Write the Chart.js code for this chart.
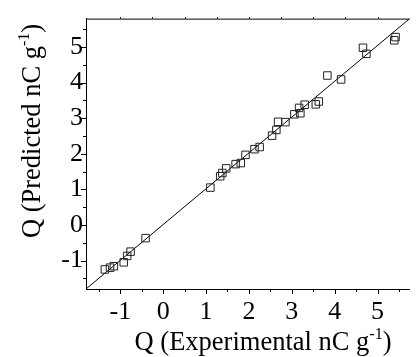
<!DOCTYPE html>
<html>
<head>
<meta charset="utf-8">
<script src="https://cdn.jsdelivr.net/npm/chart.js@4/dist/chart.umd.min.js"></script>
<style>
  html, body { margin: 0; padding: 0; background: #fff; }
  #wrap { width: 416px; height: 357px; }
</style>
</head>
<body>
<div id="wrap"><canvas id="chart" width="416" height="357"></canvas></div>
<script>
// experimental vs predicted Q
const expX = [-1.36, -1.24, -1.15, -0.92, -0.84, -0.76, -0.41, 1.10, 1.33, 1.38,
  1.47, 1.69, 1.81, 1.92, 2.13, 2.25, 2.54, 2.64, 2.68, 2.85,
  3.06, 3.17, 3.20, 3.30, 3.56, 3.63, 3.83, 4.15, 4.66, 4.74,
  5.39, 5.42];
const predY = [-1.25, -1.20, -1.16, -1.05, -0.87, -0.75, -0.37, 1.05, 1.37, 1.46,
  1.59, 1.71, 1.74, 1.97, 2.13, 2.19, 2.51, 2.67, 2.90, 2.89,
  3.11, 3.29, 3.14, 3.38, 3.39, 3.47, 4.20, 4.09, 4.98, 4.81,
  5.19, 5.28];

// fitted line end points
const fitX = [-1.8, 5.75];
const fitY = [-1.8, 5.8];

const xMajor = [-1, 0, 1, 2, 3, 4, 5];
const xMinor = [-1.5, -0.5, 0.5, 1.5, 2.5, 3.5, 4.5, 5.5];
const yMajor = [-1, 0, 1, 2, 3, 4, 5];
const yMinor = [-1.5, -0.5, 0.5, 1.5, 2.5, 3.5, 4.5, 5.5];
const xTop = [-1, -0.25, 0.5, 1.25, 2, 2.75, 3.5, 4.25, 5];

const FONT = "'Liberation Serif', 'Times New Roman', serif";

// draws the tick marks, top border and the two axis titles
const axisDeco = {
  id: 'axisDeco',
  afterDraw(chart) {
    const ctx = chart.ctx;
    const a = chart.chartArea;
    const xs = chart.scales.x, ys = chart.scales.y;
    ctx.save();
    ctx.strokeStyle = '#000';
    ctx.lineWidth = 1;
    ctx.beginPath();
    ctx.moveTo(a.left, a.top + 0.5);
    ctx.lineTo(a.right, a.top + 0.5);
    xMajor.forEach(v => { const p = Math.round(xs.getPixelForValue(v)) + 0.5; ctx.moveTo(p, a.bottom); ctx.lineTo(p, a.bottom + 5); });
    xMinor.forEach(v => { const p = Math.round(xs.getPixelForValue(v)) + 0.5; ctx.moveTo(p, a.bottom); ctx.lineTo(p, a.bottom + 3); });
    xTop.forEach(v => { const p = Math.round(xs.getPixelForValue(v)) + 0.5; ctx.moveTo(p, a.top); ctx.lineTo(p, a.top - 1.5); });
    yMajor.forEach(v => { const p = Math.round(ys.getPixelForValue(v)) + 0.5; ctx.moveTo(a.left, p); ctx.lineTo(a.left - 5, p); });
    yMinor.forEach(v => { const p = Math.round(ys.getPixelForValue(v)) + 0.5; ctx.moveTo(a.left, p); ctx.lineTo(a.left - 3, p); });
    ctx.stroke();

    ctx.fillStyle = '#000';
    ctx.textBaseline = 'alphabetic';
    const drawTitle = (main, tail, cx, baseY) => {
      ctx.font = '26.5px ' + FONT;
      const w1 = ctx.measureText(main).width;
      const w3 = ctx.measureText(')').width;
      ctx.font = '16px ' + FONT;
      const w2 = ctx.measureText(tail).width;
      const total = w1 + w2 + w3;
      let x = cx - total / 2;
      ctx.textAlign = 'left';
      ctx.font = '26.5px ' + FONT;
      ctx.fillText(main, x, baseY);
      ctx.font = '16px ' + FONT;
      ctx.fillText(tail, x + w1, baseY - 11);
      ctx.font = '26.5px ' + FONT;
      ctx.fillText(')', x + w1 + w2, baseY);
    };
    drawTitle('Q (Experimental nC g', '-1', 263, 350);
    ctx.translate(40, 131);
    ctx.rotate(-Math.PI / 2);
    drawTitle('Q (Predicted nC g', '-1', 0, 0);
    ctx.restore();
  }
};

const points = expX.map((x, i) => ({ x: x, y: predY[i] }));
const fitLine = fitX.map((x, i) => ({ x: x, y: fitY[i] }));

new Chart(document.getElementById('chart'), {
  type: 'scatter',
  data: {
    datasets: [
      {
        label: 'fit',
        type: 'line',
        data: fitLine,
        borderColor: '#000',
        borderWidth: 1,
        pointRadius: 0,
        fill: false,
        order: 2
      },
      {
        label: 'Q',
        data: points,
        pointStyle: 'rect',
        pointRadius: 5.3,
        borderColor: '#222',
        borderWidth: 1,
        backgroundColor: 'rgba(0,0,0,0)',
        order: 1
      }
    ]
  },
  options: {
    responsive: false,
    animation: false,
    layout: { padding: { top: 11, right: 1, left: 0, bottom: 0 } },
    plugins: { legend: { display: false }, tooltip: { enabled: false } },
    scales: {
      x: {
        type: 'linear',
        min: -1.8,
        max: 5.75,
        afterBuildTicks: s => { s.ticks = xMajor.map(v => ({ value: v })); },
        afterFit: s => { s.height = 68; },
        grid: { display: false, drawTicks: false },
        border: { display: true, color: '#000', width: 1 },
        ticks: { color: '#000', padding: 8, font: { family: FONT, size: 26 } }
      },
      y: {
        type: 'linear',
        min: -1.8,
        max: 5.8,
        afterBuildTicks: s => { s.ticks = yMajor.map(v => ({ value: v })); },
        afterFit: s => { s.width = 86; },
        grid: { display: false, drawTicks: false },
        border: { display: true, color: '#000', width: 1 },
        ticks: { color: '#000', padding: 3, font: { family: FONT, size: 26 } }
      }
    }
  },
  plugins: [axisDeco]
});
</script>
</body>
</html>
